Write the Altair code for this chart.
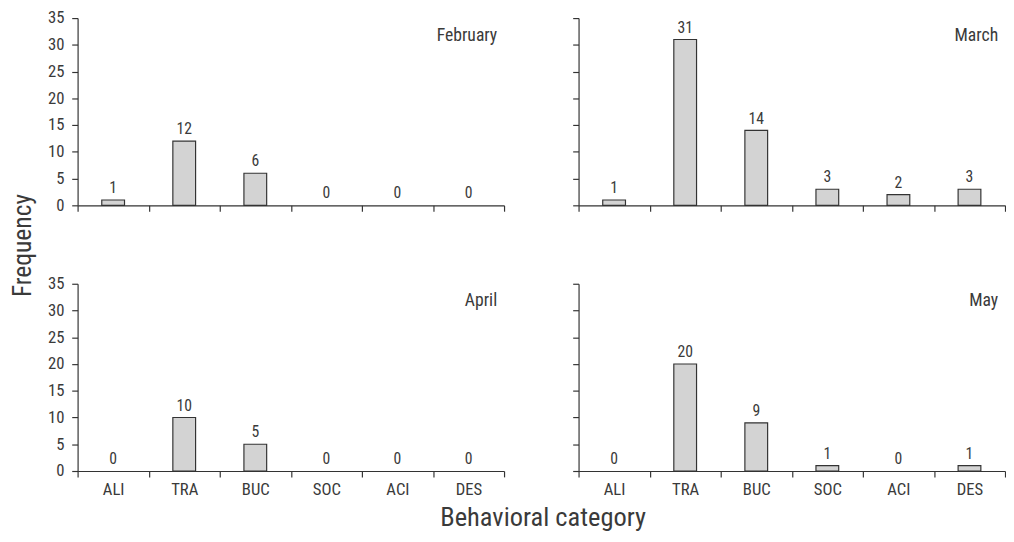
import altair as alt
import pandas as pd

months = ["February", "March", "April", "May"]
categories = ["ALI", "TRA", "BUC", "SOC", "ACI", "DES"]
feb = [1, 12, 6, 0, 0, 0]
mar = [1, 31, 14, 3, 2, 3]
apr = [0, 10, 5, 0, 0, 0]
may = [0, 20, 9, 1, 0, 1]
y_ticks = [0, 5, 10, 15, 20, 25, 30, 35]

FONT = "Roboto Condensed, Liberation Sans Narrow, DejaVu Sans Condensed, Roboto, sans-serif"
INK = "#333333"
TXT = "#3a3a3a"
W, H = 435, 191


def panel(month, values, show_y, show_x):
    df = pd.DataFrame({"category": categories, "value": values})
    base = alt.Chart(df)
    x = alt.X(
        "category:N",
        sort=categories,
        scale=alt.Scale(paddingInner=0, paddingOuter=0),
        axis=alt.Axis(
            title=None,
            labels=show_x,
            tickBand="extent",
            tickSize=6,
            labelPadding=5,
            labelAngle=0,
            labelFont=FONT,
            labelFontSize=17,
        ),
    )
    y = alt.Y(
        "value:Q",
        scale=alt.Scale(domain=[0, 35], nice=False),
        axis=alt.Axis(
            title=None,
            values=y_ticks,
            labels=show_y,
            tickSize=6,
            labelPadding=8,
            grid=False,
            labelFont=FONT,
            labelFontSize=17,
        ),
    )
    bars = base.transform_filter("datum.value > 0").mark_bar(
        width=alt.RelativeBandSize(0.32),
        fill="#d3d3d3",
        stroke=INK,
        strokeWidth=1.2,
    ).encode(x=x, y=y)
    labels = base.mark_text(
        baseline="bottom", dy=-4, fontSize=16, color=TXT, font=FONT
    ).encode(x=x, y=y, text="value:Q")
    title = alt.Chart(pd.DataFrame({"month": [month]})).mark_text(
        align="right", baseline="middle", fontSize=18, color=TXT, font=FONT
    ).encode(x=alt.value(W - 7), y=alt.value(18), text="month:N")
    return alt.layer(bars, labels, title).properties(width=W, height=H)


top = alt.hconcat(
    panel(months[0], feb, True, False),
    panel(months[1], mar, False, False),
    spacing=68,
)
bottom = alt.hconcat(
    panel(months[2], apr, True, True),
    panel(months[3], may, False, True),
    spacing=68,
)
inner = alt.vconcat(top, bottom, spacing=63).properties(
    title=alt.TitleParams(
        "Frequency", orient="left", anchor="middle", fontSize=26,
        font=FONT, color=TXT, fontWeight="normal", offset=12, dx=8,
    )
)
chart = alt.hconcat(inner).properties(
    title=alt.TitleParams(
        "Behavioral category", orient="bottom", anchor="middle", fontSize=27,
        font=FONT, color=TXT, fontWeight="normal", offset=8, dx=36,
    ),
    padding={"left": 2, "top": -4, "right": 0, "bottom": 0},
).configure_view(stroke=None).configure_axis(
    domainColor=INK,
    tickColor=INK,
    labelColor=TXT,
    domainWidth=1.2,
    tickWidth=1.2,
)

chart.save("out.html", embed_options={"renderer": "svg", "actions": False})
